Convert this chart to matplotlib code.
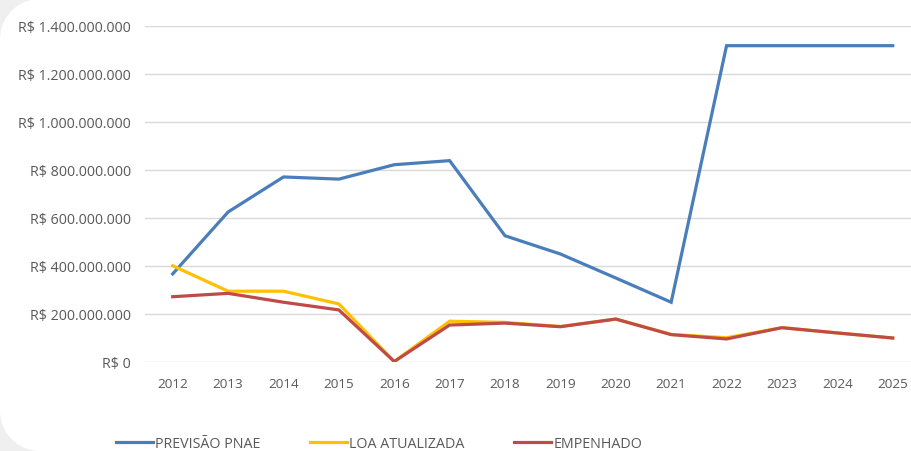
import matplotlib.pyplot as plt
from matplotlib.patches import Rectangle, Circle
from matplotlib.ticker import FuncFormatter

# values in R$
anos = [2012, 2013, 2014, 2015, 2016, 2017, 2018, 2019, 2020, 2021, 2022, 2023, 2024, 2025]
previsao_pnae = [367e6, 625e6, 771e6, 762e6, 822e6, 839e6, 526e6, 450e6, 350e6, 249e6,
                 1318e6, 1318e6, 1318e6, 1318e6]
loa_atualizada = [401e6, 295e6, 295e6, 242e6, 2e6, 170e6, 165e6, 148e6, 179e6, 115e6,
                  101e6, 143e6, 121e6, 100e6]
empenhado = [272e6, 286e6, 249e6, 217e6, 2e6, 154e6, 162e6, 147e6, 179e6, 114e6,
             96e6, 143e6, 121e6, 100e6]
y_ticks = [0, 200e6, 400e6, 600e6, 800e6, 1000e6, 1200e6, 1400e6]

plt.rcParams['font.family'] = ['Open Sans', 'DejaVu Sans']
cinza = '#595959'

fig = plt.figure(figsize=(9.11, 4.52), dpi=100, facecolor='white')
# rounded gray corners on the left side of the card (inches)
r = 0.4
for cy in (0, 4.52 - r):
    fig.patches.append(Rectangle((0, cy), r, r, transform=fig.dpi_scale_trans,
                                 facecolor='#efefef', edgecolor='none', zorder=-10))
for cy in (r, 4.52 - r):
    fig.patches.append(Circle((r, cy), r, transform=fig.dpi_scale_trans,
                              facecolor='white', edgecolor='none', zorder=-9))

ax = fig.add_axes([145 / 911, (452 - 363) / 452, (911 - 145) / 911, (363 - 27) / 452])
ax.set_facecolor('none')
ax.set_zorder(5)

ax.plot(anos, previsao_pnae, color='#4a7ebb', lw=2.3, label='PREVISÃO PNAE', solid_joinstyle='miter')
ax.plot(anos, loa_atualizada, color='#ffc000', lw=2.3, label='LOA ATUALIZADA', solid_joinstyle='miter')
ax.plot(anos, empenhado, color='#be4b48', lw=2.3, label='EMPENHADO', solid_joinstyle='miter')

ax.set_xlim(2011.5, 2025.33)
ax.set_ylim(0, 1400e6)
ax.set_xticks(anos)
ax.set_yticks(y_ticks)


def reais(v, pos):
    if v == 0:
        return 'R$ 0'
    return 'R$ ' + f'{v:,.0f}'.replace(',', '.')


ax.yaxis.set_major_formatter(FuncFormatter(reais))
ax.tick_params(length=0, labelcolor=cinza)
ax.tick_params(axis='x', pad=11, labelsize=9.7)
ax.tick_params(axis='y', pad=10, labelsize=10.3)
ax.grid(axis='y', color='#d9d9d9', lw=1)
ax.set_axisbelow(True)
for s in ax.spines.values():
    s.set_visible(False)

leg = fig.legend(loc='center', bbox_to_anchor=(0.416, 0.017), ncol=3, frameon=False, fontsize=10.3,
                 labelcolor=cinza, handlelength=2.6, handletextpad=0.15, columnspacing=3.45)
leg.set_zorder(6)

fig.savefig('out.png', dpi=100, facecolor=fig.get_facecolor())
